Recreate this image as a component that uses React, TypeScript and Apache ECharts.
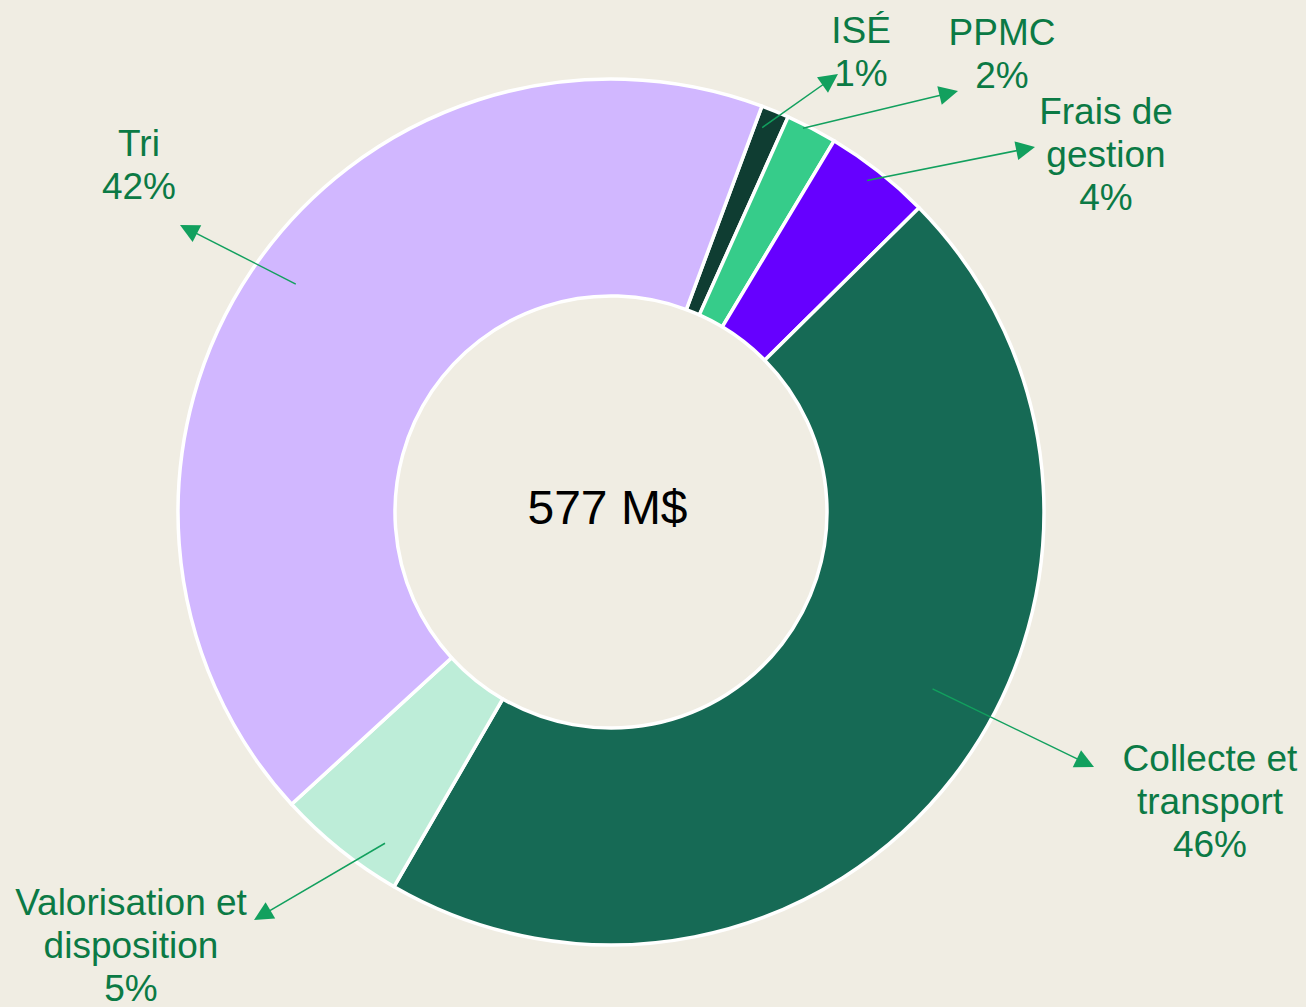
import React, { useEffect, useRef } from 'react';
import * as echarts from 'echarts';

// ---- data ----
const categories = ['ISÉ', 'PPMC', 'Frais de gestion', 'Collecte et transport', 'Valorisation et disposition', 'Tri'];
const labelNames = ['ISÉ', 'PPMC', 'Frais de\ngestion', 'Collecte et\ntransport', 'Valorisation et\ndisposition', 'Tri'];
const valuesM = [6, 11, 23, 264, 28, 245];
const unit = 'M$';

// ---- styles / layout ----
const colors = ['#0F3D32', '#36CC8A', '#6600FF', '#166A55', '#BDEDD8', '#D1B7FF'];
const BG = '#F0EDE3';
const TEXT_GREEN = '#0B7A45';
const ARROW_GREEN = '#12A05E';
const W = 1306, H = 1007;
const CX = 611, CY = 512, R_IN = 216, R_OUT = 433;
const START_CW = 20.4; // degrees clockwise from 12 o'clock
const labelPos: number[][] = [[861, 51.5], [1002, 53.5], [1106, 154.5], [1210, 801], [131, 945], [139, 164.5]];
const arrowTip: number[][] = [[838, 74], [958, 91], [1035, 147], [1094, 767], [254, 920], [180, 225]];
const arrowStartOffset = [-0.8, -1, -0.5, -8.9, -4.5, 1.9];
const arrowStartR = [413, 429, 419, 367, 401, 389];
const ARROW_SIZE = 19;

export default function App() {
  const ref = useRef<HTMLDivElement>(null);
  useEffect(() => {
    if (!ref.current) return;
    const chart = echarts.init(ref.current, undefined, { renderer: 'svg' });
    const total = valuesM.reduce((a, b) => a + b, 0);

    // arrows computed from slice mid angles
    let cum = 0;
    const arrows = valuesM.map((v, i) => {
      const a0 = START_CW + (cum / total) * 360;
      cum += v;
      const a1 = START_CW + (cum / total) * 360;
      const mid = ((a0 + a1) / 2 + arrowStartOffset[i]) * Math.PI / 180;
      const sx = CX + arrowStartR[i] * Math.sin(mid);
      const sy = CY - arrowStartR[i] * Math.cos(mid);
      const [tx, ty] = arrowTip[i];
      const dx = tx - sx, dy = ty - sy;
      const len = Math.sqrt(dx * dx + dy * dy);
      const ex = tx - (dx / len) * (ARROW_SIZE / 2);
      const ey = ty - (dy / len) * (ARROW_SIZE / 2);
      return { coords: [[sx, sy], [ex, ey]] };
    });

    chart.setOption({
      animation: false,
      backgroundColor: BG,
      grid: { left: 0, right: 0, top: 0, bottom: 0 },
      xAxis: { type: 'value', min: 0, max: W, show: false },
      yAxis: { type: 'value', min: 0, max: H, inverse: true, show: false },
      graphic: [
        {
          type: 'text',
          x: 607.5,
          y: 507,
          z: 100,
          style: {
            text: `${total} ${unit}`,
            fill: '#000',
            font: '48px "Liberation Sans", Arial, sans-serif',
            align: 'center',
            verticalAlign: 'middle',
          },
        },
      ],
      series: [
        {
          type: 'pie',
          center: [CX, CY],
          radius: [R_IN, R_OUT],
          startAngle: 90 - START_CW,
          clockwise: true,
          avoidLabelOverlap: false,
          percentPrecision: 0,
          silent: true,
          emphasis: { disabled: true },
          itemStyle: { borderColor: '#FFFFFF', borderWidth: 3.5 },
          label: {
            show: true,
            position: 'outside',
            formatter: (p: any) => `${labelNames[p.dataIndex]}\n${p.percent}%`,
            color: TEXT_GREEN,
            fontFamily: '"Liberation Sans", Arial, sans-serif',
            fontSize: 37,
            lineHeight: 43,
            align: 'center',
          },
          labelLine: { show: false },
          labelLayout: (p: any) => ({
            x: labelPos[p.dataIndex][0],
            y: labelPos[p.dataIndex][1],
            align: 'center',
            verticalAlign: 'middle',
          }),
          data: categories.map((name, i) => ({
            name,
            value: valuesM[i],
            itemStyle: { color: colors[i] },
          })),
        },
        {
          type: 'lines',
          coordinateSystem: 'cartesian2d',
          silent: true,
          z: 10,
          symbol: ['none', 'triangle'],
          symbolSize: ARROW_SIZE,
          lineStyle: { color: ARROW_GREEN, width: 1.5, opacity: 1 },
          data: arrows,
        },
      ],
    });
    return () => chart.dispose();
  }, []);

  return (
    <div
      ref={ref}
      style={{ position: 'fixed', left: 0, top: 0, width: W, height: H }}
    />
  );
}
